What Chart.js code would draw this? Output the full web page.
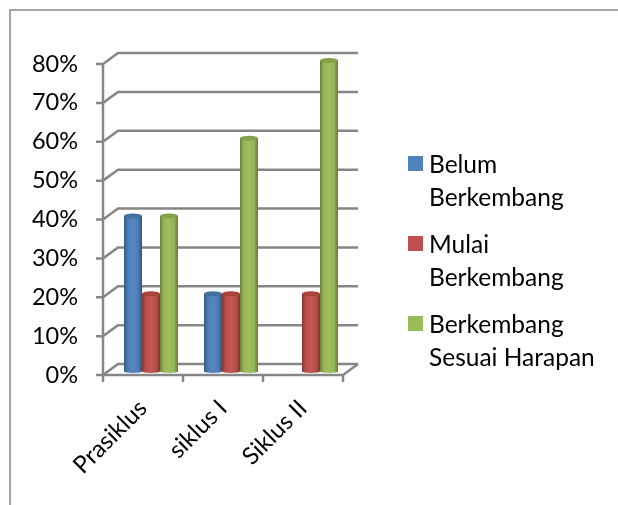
<!DOCTYPE html>
<html>
<head>
<meta charset="utf-8">
<script src="https://cdn.jsdelivr.net/npm/chart.js@4"></script>
<style>
  html, body { margin: 0; padding: 0; background: #fff; }
  #wrap { position: relative; width: 618px; height: 505px; overflow: hidden; }
  #frame { position: absolute; left: 9px; top: 9px; right: -5px; bottom: -5px;
           border-left: 2px solid #a6a6a6; border-top: 2px solid #a6a6a6; }
  canvas { position: absolute; left: 0; top: 0; }
  #legend { position: absolute; left: 408px; top: 147px; font: 24.5px Lato, sans-serif; color: #000; }
  .item { position: relative; padding-left: 21px; line-height: 33px; margin-bottom: 14px; white-space: nowrap; }
  .item i { position: absolute; left: 0; top: 9px; width: 15px; height: 15px; }
</style>
</head>
<body>
<div id="wrap">
  <div id="frame"></div>
  <canvas id="chart" width="618" height="505"></canvas>
  <div id="legend"></div>
</div>
<script>
const categories = ["Prasiklus", "siklus I", "Siklus II"];
const belum = [40, 20, 0];
const mulai = [20, 20, 20];
const sesuai = [40, 60, 80];
const seriesNames = [["Belum", "Berkembang"], ["Mulai", "Berkembang"], ["Berkembang", "Sesuai Harapan"]];
const colors = ["#4f81bd", "#c0504d", "#9bbb59"];
const capColors = ["#41709f", "#a8443f", "#84a04b"];

const DX = 15, DY = 11;          // depth of the fake 3d box
const BAR_DX = 8, BAR_DY = -3.5; // bars stand a bit inside the box

const frame3d = {
  id: "frame3d",
  beforeDatasetsDraw(chart) {
    const ctx = chart.ctx, x = chart.scales.x, y = chart.scales.y;
    const l = x.left, r = x.right, b = y.bottom;
    ctx.save();
    ctx.strokeStyle = "#868686";
    ctx.lineWidth = 2.5;
    y.ticks.forEach(t => {
      const py = y.getPixelForValue(t.value);
      ctx.beginPath();
      ctx.moveTo(l - 7, py);
      ctx.lineTo(l, py);
      ctx.lineTo(l + DX, py - DY);
      ctx.lineTo(r + DX, py - DY);
      ctx.stroke();
    });
    // floor and front axis
    ctx.beginPath();
    ctx.moveTo(l, y.top);
    ctx.lineTo(l, b + 7);
    ctx.moveTo(l, b);
    ctx.lineTo(r, b);
    ctx.lineTo(r + DX, b - DY);
    ctx.stroke();
    categories.forEach((c, i) => {
      const px = l + (r - l) * (i + 1) / categories.length;
      ctx.beginPath();
      ctx.moveTo(px, b);
      ctx.lineTo(px, b + 7);
      ctx.stroke();
    });
    ctx.restore();
    ctx.save();
    ctx.translate(BAR_DX, BAR_DY);
  },
  afterDatasetsDraw(chart) {
    const ctx = chart.ctx;
    chart.data.datasets.forEach((ds, di) => {
      chart.getDatasetMeta(di).data.forEach((el, i) => {
        if (!ds.data[i]) return;
        const left = el.x - el.width / 2, right = el.x + el.width / 2;
        const g = ctx.createLinearGradient(left, 0, right, 0);
        g.addColorStop(0, "rgba(0,0,0,0.32)");
        g.addColorStop(0.22, "rgba(0,0,0,0.02)");
        g.addColorStop(0.5, "rgba(255,255,255,0.06)");
        g.addColorStop(0.78, "rgba(0,0,0,0.02)");
        g.addColorStop(1, "rgba(0,0,0,0.36)");
        // rounded foot
        ctx.fillStyle = colors[di];
        ctx.beginPath();
        ctx.ellipse(el.x, el.base, el.width / 2, 1.5, 0, 0, Math.PI * 2);
        ctx.fill();
        ctx.fillStyle = g;
        ctx.beginPath();
        ctx.moveTo(left, el.y);
        ctx.lineTo(right, el.y);
        ctx.lineTo(right, el.base);
        ctx.ellipse(el.x, el.base, el.width / 2, 1.5, 0, 0, Math.PI);
        ctx.closePath();
        ctx.fill();
        // top cap
        ctx.fillStyle = capColors[di];
        ctx.beginPath();
        ctx.ellipse(el.x, el.y, el.width / 2, 2.5, 0, 0, Math.PI * 2);
        ctx.fill();
      });
    });
    ctx.restore();
  }
};

new Chart(document.getElementById("chart"), {
  type: "bar",
  data: {
    labels: categories,
    datasets: [
      { label: seriesNames[0].join(" "), data: belum, backgroundColor: colors[0] },
      { label: seriesNames[1].join(" "), data: mulai, backgroundColor: colors[1] },
      { label: seriesNames[2].join(" "), data: sesuai, backgroundColor: colors[2] }
    ]
  },
  options: {
    responsive: false,
    animation: false,
    layout: { padding: { left: 0, right: 275, top: 64, bottom: 0 } },
    datasets: { bar: { categoryPercentage: 0.675, barPercentage: 1 } },
    plugins: { legend: { display: false }, tooltip: { enabled: false } },
    scales: {
      x: {
        grid: { display: false },
        border: { display: false },
        afterFit(s) { s.height = 130; },
        ticks: { color: "#000", font: { family: "Lato", size: 24 }, minRotation: 45, maxRotation: 45, padding: 11, autoSkip: false }
      },
      y: {
        min: 0,
        max: 80,
        grid: { display: false, drawTicks: false },
        border: { display: false },
        afterFit(s) { s.width = 103; },
        ticks: { color: "#000", font: { family: "Lato", size: 23.5 }, stepSize: 10, padding: 25, callback: v => v + "%" }
      }
    }
  },
  plugins: [frame3d]
});

const legend = document.getElementById("legend");
seriesNames.forEach((lines, i) => {
  const item = document.createElement("div");
  item.className = "item";
  item.innerHTML = `<i style="background:${colors[i]}"></i>${lines.join("<br>")}`;
  legend.appendChild(item);
});
</script>
</body>
</html>
